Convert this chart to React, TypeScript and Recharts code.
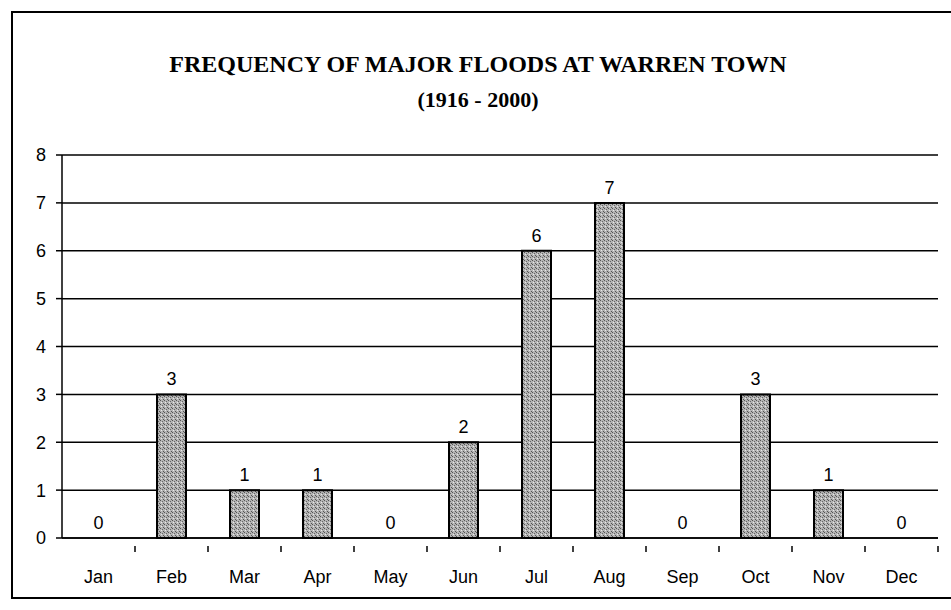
import * as React from 'react'
import { ComposedChart, Bar, Line, XAxis, YAxis, CartesianGrid, LabelList } from 'recharts'

const months = ['Jan', 'Feb', 'Mar', 'Apr', 'May', 'Jun', 'Jul', 'Aug', 'Sep', 'Oct', 'Nov', 'Dec']
const floods = [0, 3, 1, 1, 0, 2, 6, 7, 0, 3, 1, 0]
const yTicks = [0, 1, 2, 3, 4, 5, 6, 7, 8]
const titleLines = ['FREQUENCY OF MAJOR FLOODS AT WARREN TOWN', '(1916 - 2000)']

const data = months.map((month, i) => ({ month, floods: floods[i] }))

const CHART_W = 951
const CHART_H = 610
const MARGIN = { top: 155, right: 13, left: 12, bottom: 42 }
const Y_AXIS_W = 50
// width of one category band, used to put the tick marks between months
const BAND = (CHART_W - MARGIN.left - Y_AXIS_W - MARGIN.right) / months.length

const sans = '"Liberation Sans", Arial, sans-serif'
const serif = '"Liberation Serif", "Times New Roman", serif'

// month label with a small tick on the right-hand boundary of its band
const MonthTick = (props: any) => {
  const { x, y, payload } = props
  return (
    <g>
      <line x1={x + BAND / 2} y1={y} x2={x + BAND / 2} y2={y + 6} stroke="#000" strokeWidth={1.5} />
      <text x={x} y={y + 37} textAnchor="middle" fontFamily={sans} fontSize={18} fill="#000">
        {payload.value}
      </text>
    </g>
  )
}

export default function App() {
  return (
    <div style={{ position: 'absolute', left: 0, top: 0, width: CHART_W, height: CHART_H, background: '#fff', overflow: 'hidden' }}>
      {/* outer frame of the scanned chart */}
      <div
        style={{
          position: 'absolute',
          left: 11,
          top: 11,
          width: 960,
          height: 588,
          border: '2px solid #000',
          boxSizing: 'border-box',
        }}
      />
      {titleLines.map((line, i) => (
        <div
          key={line}
          style={{
            position: 'absolute',
            left: 0,
            width: 956,
            top: i === 0 ? 50 : 86,
            textAlign: 'center',
            fontFamily: serif,
            fontWeight: 'bold',
            fontSize: i === 0 ? 24 : 22,
            color: '#000',
            lineHeight: '28px',
          }}
        >
          {line}
        </div>
      ))}
      <div style={{ position: 'absolute', left: 0, top: 0 }}>
        <ComposedChart width={CHART_W} height={CHART_H} data={data} margin={MARGIN}>
          <defs>
            <pattern id="stipple" width="4" height="4" patternUnits="userSpaceOnUse">
              <rect width="4" height="4" fill="#b4b4b4" />
              <rect x="0" y="0" width="1" height="1" fill="#555" />
              <rect x="2" y="1" width="1" height="1" fill="#666" />
              <rect x="1" y="2" width="1" height="1" fill="#e8e8e8" />
              <rect x="3" y="3" width="1" height="1" fill="#555" />
            </pattern>
          </defs>
          <CartesianGrid vertical={false} stroke="#000" strokeWidth={1.5} />
          <XAxis
            dataKey="month"
            axisLine={{ stroke: '#000', strokeWidth: 1.5 }}
            tickLine={false}
            tick={<MonthTick />}
            interval={0}
            height={30}
          />
          <YAxis
            domain={[0, 8]}
            ticks={yTicks}
            width={Y_AXIS_W}
            axisLine={{ stroke: '#000', strokeWidth: 1.5 }}
            tickLine={{ stroke: '#000', strokeWidth: 1.5 }}
            tickSize={6}
            tickMargin={10}
            tick={{ fontFamily: sans, fontSize: 18, fill: '#000' }}
            interval={0}
          />
          <YAxis
            yAxisId="frame"
            orientation="right"
            domain={[0, 8]}
            width={0}
            tick={false}
            tickLine={false}
            axisLine={{ stroke: '#000', strokeWidth: 1.5 }}
          />
          <Bar dataKey="floods" barSize={29} fill="url(#stipple)" stroke="#000" strokeWidth={2} isAnimationActive={false} />
          {/* invisible line carrying the value labels, so the zero months get one too */}
          <Line dataKey="floods" stroke="none" dot={false} activeDot={false} isAnimationActive={false}>
            <LabelList dataKey="floods" position="top" offset={9} fontFamily={sans} fontSize={18} fill="#000" />
          </Line>
        </ComposedChart>
      </div>
    </div>
  )
}
